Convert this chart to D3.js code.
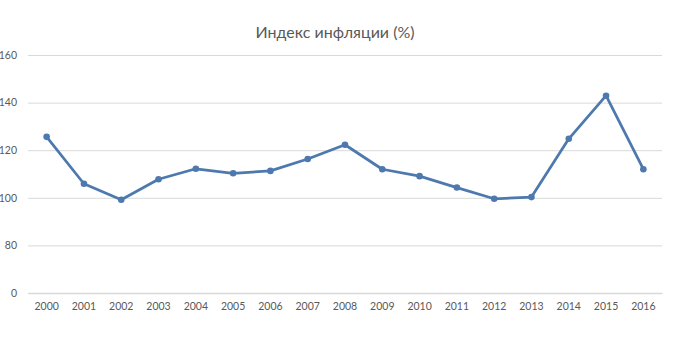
<!DOCTYPE html>
<html>
<head>
<meta charset="utf-8">
<script src="https://cdn.jsdelivr.net/npm/d3@7"></script>
<style>
  html, body { margin: 0; padding: 0; background: #fff; }
  svg { display: block; font-family: Lato, "Open Sans", sans-serif; }
</style>
</head>
<body>
<svg id="chart" width="685" height="350"></svg>
<script>
// Annual inflation index, %
const years = ["2000","2001","2002","2003","2004","2005","2006","2007","2008",
               "2009","2010","2011","2012","2013","2014","2015","2016"];
const inflation = [125.6, 105.9, 99.2, 107.8, 112.2, 110.3, 111.3, 116.3, 122.3,
                   112.0, 109.1, 104.3, 99.6, 100.3, 124.8, 142.9, 112.0];
// The value axis skips from 0 straight to 80
const yTicks = [0, 80, 100, 120, 140, 160];
const titleText = "Индекс инфляции (%)";

const svg = d3.select("#chart");
const plotLeft = 28, plotRight = 662, plotTop = 55, plotBottom = 293;

const x = d3.scaleBand().domain(years).range([plotLeft, plotRight]);
// Piecewise scale: the 0–80 segment takes the same height as one 20-step
const y = d3.scaleLinear()
  .domain([0, 80, 160])
  .range([plotBottom, plotBottom - (plotBottom - plotTop) / 5, plotTop]);

svg.append("text")
  .attr("x", 335).attr("y", 38)
  .attr("text-anchor", "middle")
  .attr("font-size", 16)
  .attr("fill", "#595959")
  .text(titleText);

// Horizontal grid and value labels
const yAxis = d3.axisLeft(y).tickValues(yTicks).tickSize(-(plotRight - plotLeft)).tickPadding(11);
const gy = svg.append("g").attr("transform", `translate(${plotLeft},0)`).call(yAxis);
gy.select(".domain").remove();
gy.selectAll(".tick line").attr("stroke", "#d9d9d9").attr("stroke-width", 1);
gy.selectAll(".tick text").attr("fill", "#595959").attr("font-size", 10.5)
  .attr("font-family", "Lato, sans-serif");

// Category axis
const xAxis = d3.axisBottom(x).tickSize(0).tickPadding(10);
const gx = svg.append("g").attr("transform", `translate(0,${plotBottom})`).call(xAxis);
gx.select(".domain").attr("stroke", "#d9d9d9").attr("stroke-width", 1.5);
gx.selectAll(".tick text").attr("fill", "#595959").attr("font-size", 10.5)
  .attr("font-family", "Lato, sans-serif");

const pts = years.map((yr, i) => ({ yr, v: inflation[i] }));
const cx = d => x(d.yr) + x.bandwidth() / 2;

svg.append("path")
  .datum(pts)
  .attr("fill", "none")
  .attr("stroke", "#4e79ae")
  .attr("stroke-width", 2.75)
  .attr("stroke-linejoin", "round")
  .attr("d", d3.line().x(cx).y(d => y(d.v)));

svg.append("g").selectAll("circle")
  .data(pts)
  .join("circle")
  .attr("cx", cx)
  .attr("cy", d => y(d.v))
  .attr("r", 3.3)
  .attr("fill", "#4e79ae");
</script>
</body>
</html>
